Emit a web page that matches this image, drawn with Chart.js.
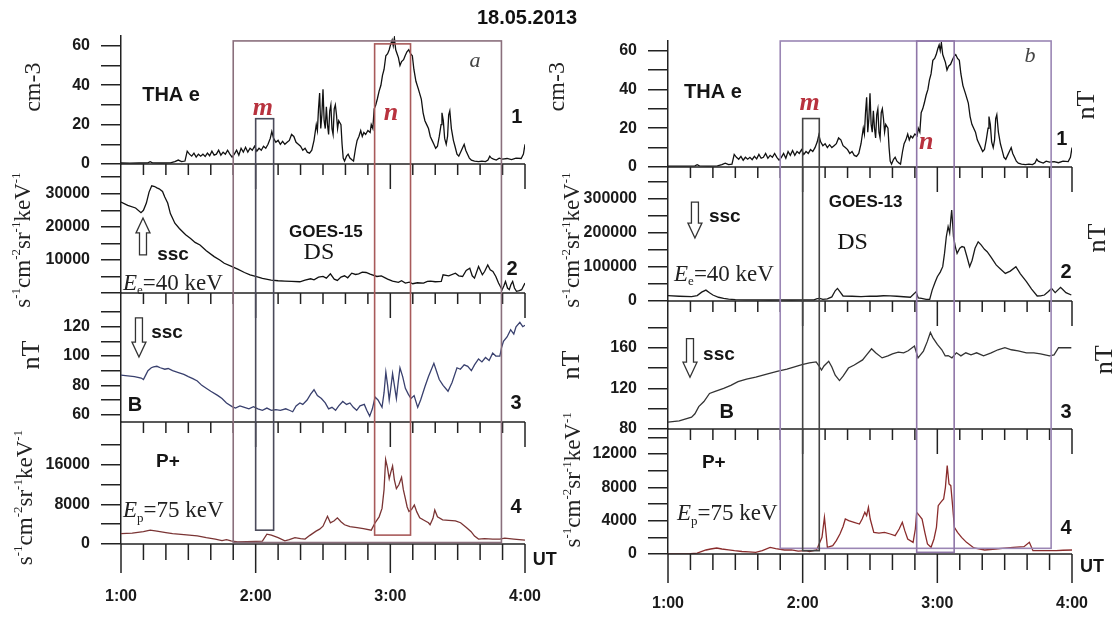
<!DOCTYPE html>
<html>
<head>
<meta charset="utf-8">
<script src="https://cdn.jsdelivr.net/npm/chart.js@4.4.1/dist/chart.umd.min.js"></script>
<style>
  body { margin: 0; background: #fff; }
  #wrap { position: relative; width: 1116px; height: 617px; overflow: hidden; }
  canvas { position: absolute; top: 0; }
  #ca { left: 0; }
  #cb { left: 540px; }
  #date { position: absolute; left: 467px; top: 6px; width: 120px; text-align: center;
          font: bold 20px "Liberation Sans", Arial, sans-serif; color: #111; }
</style>
</head>
<body>
<div id="wrap">
  <canvas id="ca" width="560" height="617"></canvas>
  <canvas id="cb" width="576" height="617"></canvas>
  <div id="date">18.05.2013</div>
</div>
<script>
// time axis: minutes after 01:00 UT
const hourLabels = ['1:00', '2:00', '3:00', '4:00'];

// THEMIS-A electron density, cm-3 (same trace in both columns)
const thaMin = [0,4,8,12,13,14,18,22,24,25.5,
  27,28.5,29.5,30.5,31.5,32.5,33.5,34.5,35.5,36.5,
  37.5,38.5,39.5,40.5,41.5,42.5,43.5,44.5,45.5,46.5,
  47.5,48.5,49.5,50.5,51.5,52.5,53.5,54.5,55.5,56.5,
  57.5,58.5,59.5,60.5,61.5,62.5,63.5,64.5,65.5,66.5,
  67.2,68,69,70,71,72,73,74,75,76,
  77,78,79,80,81,82,83,84,85,86,
  87,87.5,88,88.5,89,89.5,90,90.5,91,91.5,
  92,92.5,93,93.5,94,94.5,95,95.5,96,96.5,
  97,98,98.5,99,99.6,100.5,101.2,102,103,103.6,
  104.5,105.2,106,106.8,107.5,108.2,109,110,111,111.5,
  112.2,112.8,113.5,114.2,115,115.8,116.5,117.2,118,118.8,
  119.5,120.2,120.8,121.3,121.8,122.4,123,123.6,124.3,125,
  125.9,126.6,127.4,128.2,129,129.8,130.5,131.4,132.5,133.8,
  134.6,135.4,136.2,137,137.8,138.6,139.4,140.2,141,141.8,
  142.6,143,143.6,144.2,144.9,145.5,146,146.5,147.2,148.1,
  148.8,149.7,150.5,151.3,152.1,152.9,153.6,154.4,155.2,156.1,
  157.5,159.3,160.8,162.4,163.5,164.3,165,166,167.2,168.5,
  170,172,174,176,178.3,179.3,180];
const thaDens = [0.5,0.4,0.5,0.6,1.2,0.6,0.5,0.6,1.2,2.0,
  1.2,1.5,6.5,5,4,5.5,3.5,5,4,5,
  3.8,5.5,4.2,6.5,4.5,5,7,4.5,6,5,
  7,5,3.5,5,7,4.5,8,6,8.5,6,
  8,7,9,6.5,8,7,9,8,10,13,
  16.5,13,11,12,10,11.5,10,11,12,15,
  14,11,10,9,7,8,6,5.5,7,12,
  20,17,28,36,18,25,38,22,18,29,
  20,15,27,30,18,15,28,30,25,18,
  22,20,10,3,1.5,4,5,3,2,1.5,
  8,12,14,17,14,16,15,17,16,20,
  18,28,30,33,37,40,45,48,55,56,
  58,61,63,60,64,58,56,54,50,52,
  53,55,57,58,56,55,48,42,38,33,
  26,22,20,18,14,12,10,8,9,14,
  20,26,22,13,10,14,25,27,18,12,
  9,5,4,6,8,10,7,5,3,2,
  1.5,1.2,1.5,1.2,2,4,3,2.5,2,3,
  2.5,2.8,2.2,3,2.8,5,10];

// GOES-15 electrons 40 keV
const g15Min = [0,3,6.5,8.9,10,11.3,12.5,13.7,15,16,
  17,18.5,19.5,20.8,22,24,26,28.8,31,33,
  35.2,38,41.5,44,46,49.5,52,55,57.5,60,
  63,66.9,70,73,76,79.7,82,84.5,86,88,
  90,91.5,93.3,95,96.4,98,99.6,101,102.8,104.5,
  105.9,107.5,109.2,111,114,116,118.8,121,123.6,125,
  126.7,128.5,130,132,134.8,136.5,137.9,140,142.7,143.5,
  146,149,150.5,152.2,153.8,155.4,156.5,157.5,159.3,161,
  162,163.4,164.5,165.7,167,168.2,169.8,170.6,171.3,172.2,
  173,173.7,174.5,175.3,176.2,177.5,178.5,180];
const g15Flux = [27500,26500,25700,24300,25000,27200,30500,32400,32200,31800,
  31500,30700,29000,27200,24000,21100,19500,17600,16500,15300,
  14500,12800,11000,10000,9000,8000,7200,6200,5500,5000,
  4400,3900,3700,3600,3500,3400,3900,4300,4000,4800,
  5000,4500,5800,4200,3800,4800,5200,4600,6000,5600,
  5800,6300,6200,5700,5000,5200,4200,3600,3200,3700,
  3000,3300,2800,3100,3000,3500,3600,3400,3500,5500,
  5200,6000,5200,5000,6800,7500,5200,4500,8000,5500,
  6500,8500,7000,6500,5000,3000,1000,2200,3500,1500,
  1000,2500,3500,1500,500,700,1000,3000];

// GOES-15 magnetic field, nT
const g15bMin = [0,3,6,9,10,11,12,13.5,14.5,16,
  17.5,19.5,21,23,25.6,28,30,32,34,36,
  38.3,40,43.2,45,47,49.5,51,53,55,57,
  59,61,63,65,67,69,71,73.4,75,76.5,
  78,79.7,81,82.9,84.5,86,87.5,89.3,91,92.5,
  94,95.6,97,98.8,100.5,102,103.5,105,106.5,108.4,
  109.5,110.8,112,113.2,114.5,116.3,117.2,118,118.8,119.5,
  120.2,121,121.8,122.7,123.5,124.3,125.5,126.7,128,129.2,
  130.6,132.2,133.5,135.4,137,139.4,140.5,141.8,143.5,145.7,
  147.5,149.7,151.2,152.9,154.5,156.1,157.5,159.3,160.8,162.4,
  164,165.6,167,168.8,169.6,170.4,172,173.6,175,176,
  177.7,179,180];
const g15B = [87,86.5,86,85,84,87,90,92,92.6,93,
  92,91,91.5,90,88.7,87.5,86,84.6,83,80,
  77.7,76,73,71,68,65.5,64.5,66,65,64,
  65.5,64,63,64.5,63,63.5,63,64,63,62,
  66,68,67,70,74,77,73,71,68,64,
  65,63,66,69,67,68,65,63,66,67,
  63,59,64,72,70,65,75,89,80,70,
  78,88,80,71,82,92,86,78,74,71,
  73,65,70,79,86,95,90,84,80,76,
  82,92,91,94,93,90,94,98,96,99,
  97,102,100,100,106,110,113,118,115,120,
  123,120,121];

// GOES-15 protons 75 keV
const g15pMin = [0,5,10,13,16,20,23,28,34,38,
  42,45,47,49,52,56,60,63,65,67,
  70,73,75,77.5,80,82,84,86.9,88.5,90,
  92,93.3,95,96.4,98,99.6,102,105.2,108,111.5,
  113.2,115,116.3,117.2,117.9,118.7,119.5,120.2,121,121.8,
  122.7,123.8,125,125.8,126.7,127.5,128.3,129.5,130.7,131.8,
  133.1,135,137,137.7,139,139.8,141,143.3,146,149,
  151.3,154,156,157.5,159.3,162,165.6,168.8,171,175,
  180];
const g15P = [2100,2200,2500,2800,2600,2300,2100,1900,1650,1300,
  1000,700,900,650,450,500,550,600,2000,1800,
  1300,650,900,1300,1100,1000,1700,2600,3000,3600,
  5600,4300,4700,5300,4500,3900,3500,3300,3100,2800,
  4300,5500,7200,11000,17100,15500,13200,14500,15800,13000,
  11200,12000,13500,11000,9200,7500,6600,7000,7900,6500,
  5300,4800,4300,3900,5200,6900,5500,4900,4800,4700,
  4300,3300,2500,1600,1000,1100,1000,1000,1200,1000,
  800];

// GOES-13 electrons 40 keV
const g13Min = [0,5,10.5,13,15,16.9,18.5,20,22.5,24.8,
  27,30,35,40,45,50,55,60,65,66.5,
  67.6,69,71,73,74.5,75.5,76.5,78,82,86,
  90,93,96,99,102,105,108,110.5,111.5,113,
  115,116.6,117.7,119,120,121.3,122.4,123.2,124,124.8,
  125.5,126,126.4,126.8,127.2,128,128.8,130,131,132,
  133.2,134.4,135.5,136.8,138.2,139.5,141,142.2,144,146.2,
  148,150.3,152.5,155,157,159.7,162,164.5,166,167.7,
  169.5,170.9,172.5,174.9,176,177.3,179.7];
const g13Flux = [15700,14000,12700,16000,26000,32000,24000,17600,11000,7800,
  5500,4000,3500,3200,3000,3200,3000,3200,3500,7000,
  7800,5000,6000,12000,30000,37000,28000,14700,14000,13000,
  14500,14000,15500,15000,14000,12500,11000,27000,9000,7800,
  5000,4900,32000,55000,71500,85000,101000,140000,189000,218500,
  200000,240000,267500,230000,189000,160000,140000,155000,160000,158000,
  130000,101000,120000,155000,174000,165000,152000,145000,128000,106000,
  95000,81000,88000,101000,80000,57000,35000,14700,15000,17600,
  28000,37000,24500,40000,33000,24500,17600];

// GOES-13 magnetic field, nT
const g13bMin = [0,5,10.5,12,13.7,16,18.5,21,24.8,28,
  31.2,35,39.1,44,48.6,53,56,59.7,63,66,
  67,68.4,69.5,71.6,73,74.5,76.4,78,80.4,83,
  86.7,88.5,90.7,92.5,95.4,98,100,102.6,105,107,
  109.8,111.4,113.8,115.5,116.9,118,120,122,123.5,124.8,
  126.5,128.5,130.5,132.7,135,137.5,140.6,144,147,150.1,
  153,156,159.7,163,166,168,170,172,174,177,
  179.7];
const g13B = [86.7,88,91.7,95,102,107,115,117,120,123,
  126.7,129,131,134,136.7,139,141,143.3,145,146,
  143,138,142,146.7,141,133,127.7,132,140,143,
  148,153,159,155,150,152,154,155.7,155,157,
  161.7,150,156.7,166,175,170,163.3,158,152,152.3,
  150,155,152,155,153,155,152,155,158,160,
  158,157,155,155,154,153,152,153,160,160,
  160];

// GOES-13 protons 75 keV
const g13pMin = [0,5,10,13,16.9,19,21.7,24,27,29.6,
  33,36,39.1,42,45.5,48,51.9,55,58,61.4,
  63,66.2,68.6,69.7,70.4,71,73.4,75,76.6,78,
  79,80.5,82.9,85.3,86.5,87.7,88.5,89.3,90.1,91.7,
  94,96.5,99,101.2,103,104.4,105.5,106.8,109.2,110.2,
  110.8,112,113.2,114.5,115.6,117.2,118.5,119.6,120.4,121.5,
  122.8,123.6,124.4,125.2,126,126.8,127.6,129,130.8,133,
  136.3,141.1,146,150,153.8,158.6,161,162.6,166,172.9,
  176,180];
const g13P = [0,0,30,100,480,600,720,600,500,400,
  300,250,200,400,800,650,480,500,350,400,
  300,480,2000,4400,2500,800,1000,1600,2400,3300,
  4200,4000,3800,3600,4200,5000,4600,5600,4200,2600,
  2500,2600,2400,2200,3000,3800,2800,1800,1400,3000,
  5000,4600,4200,2500,1200,800,1800,3200,5800,6200,
  6600,8000,10600,8400,8200,5800,3200,2600,2000,1400,
  720,480,600,700,800,880,1400,400,400,400,
  450,480];

const SANS = '"Liberation Sans", Arial, sans-serif';
const SERIF = '"Liberation Serif", "Times New Roman", serif';
const RED = '#b8323e';
Chart.defaults.font.family = SANS;
Chart.defaults.color = '#1a1a1a';

const pts = (t, v) => t.map((x, i) => ({ x, y: v[i] }));

function line(ctx, x0, y0, x1, y1) {
  ctx.beginPath(); ctx.moveTo(x0, y0); ctx.lineTo(x1, y1); ctx.stroke();
}

// text built from pieces: 0 normal, 1 superscript, 2 subscript, 3 italic
function rich(ctx, parts, x, y, size, rot) {
  const small = Math.round(size * 0.56);
  const fnt = k => (k === 1 || k === 2) ? small + 'px ' + SERIF
    : (k === 3 ? 'italic ' : '') + size + 'px ' + SERIF;
  ctx.save();
  ctx.translate(x, y);
  if (rot) ctx.rotate(-Math.PI / 2);
  let w = 0;
  parts.forEach(([s, k]) => { ctx.font = fnt(k); w += ctx.measureText(s).width; });
  let cx = rot ? -w / 2 : 0;
  ctx.fillStyle = '#222';
  ctx.textAlign = 'left';
  ctx.textBaseline = 'alphabetic';
  parts.forEach(([s, k]) => {
    ctx.font = fnt(k);
    const dy = k === 1 ? -size * 0.4 : (k === 2 ? size * 0.2 : 0);
    ctx.fillText(s, cx, size * 0.33 + dy);
    cx += ctx.measureText(s).width;
  });
  ctx.restore();
}

// hollow arrow, tip at yTip
function arrow(ctx, x, yTip, yTail) {
  const d = Math.sign(yTail - yTip), hl = 15 * d;
  ctx.beginPath();
  ctx.moveTo(x, yTip);
  ctx.lineTo(x + 7, yTip + hl); ctx.lineTo(x + 3.5, yTip + hl);
  ctx.lineTo(x + 3.5, yTail); ctx.lineTo(x - 3.5, yTail);
  ctx.lineTo(x - 3.5, yTip + hl); ctx.lineTo(x - 7, yTip + hl);
  ctx.closePath();
  ctx.fillStyle = '#fff'; ctx.fill();
  ctx.strokeStyle = '#333'; ctx.lineWidth = 1.3; ctx.stroke();
}

function deco(col) {
  return {
    id: 'deco',
    afterDatasetsDraw(chart) {
      const { ctx, chartArea: ca, scales: s } = chart;
      const X = t => s.x.getPixelForValue(t);
      const Y = (ax, v) => s[ax].getPixelForValue(v);
      const ids = ['y1', 'y2', 'y3', 'y4'];
      ctx.save();
      ctx.strokeStyle = '#222'; ctx.lineWidth = 1.5;
      ids.forEach((id, i) => {
        const yb = s[id].bottom;
        line(ctx, ca.left, yb, ca.right, yb);
        for (let t = 10; t <= 180; t += 10) {
          const hr = t % 60 === 0;
          const len = i === 3 ? (hr ? 29 : 16) : (hr ? 25 : 11);
          line(ctx, X(t), yb, X(t), yb + len);
        }
      });
      line(ctx, ca.left, ca.bottom, ca.left, ca.bottom + 29);

      // tick labels from the scales' own ticks
      ctx.fillStyle = '#1a1a1a';
      ctx.font = 'bold 16px ' + SANS;
      ctx.textAlign = 'right'; ctx.textBaseline = 'middle';
      ids.forEach((id, i) => {
        const p = col.panels[i];
        s[id].ticks.forEach(tk => {
          const v = tk.value;
          if (v % p.lab === 0 && v >= p.lo && v <= p.hi) ctx.fillText(String(v), ca.left - 31, Y(id, v));
        });
      });
      ctx.textAlign = 'center';
      s.x.ticks.forEach(tk => {
        if (tk.value % 60 === 0) ctx.fillText(hourLabels[tk.value / 60], X(tk.value), ca.bottom + col.xlab);
      });

      col.boxes.forEach(b => {
        ctx.strokeStyle = b.color; ctx.lineWidth = 1.6;
        const x0 = X(b.t0), x1 = X(b.t1), y0 = Y('y1', b.top), y1 = Y('y4', b.bot);
        ctx.strokeRect(x0, y0, x1 - x0, y1 - y0);
      });

      col.ann.forEach(a => {
        const x = X(a.t), y = Y(a.ax, a.v);
        if (a.tail !== undefined) { arrow(ctx, x, y, Y(a.ax, a.tail)); return; }
        if (a.parts) { rich(ctx, a.parts, x, y, a.size, a.rot); return; }
        ctx.font = a.f; ctx.fillStyle = a.c || '#151515';
        ctx.textAlign = 'center'; ctx.textBaseline = 'middle';
        ctx.fillText(a.s, x, y);
      });
      ctx.restore();
    }
  };
}

function yAxis(p, w, order, weight) {
  return {
    type: 'linear', position: 'left', stack: 'col', stackWeight: weight, weight: order,
    min: p.min, max: p.max,
    ticks: { display: false, stepSize: p.step, autoSkip: false },
    // evenly spaced tick marks at every step inside the panel
    afterBuildTicks: ax => {
      const list = [];
      for (let v = Math.ceil(p.min / p.step) * p.step; v <= p.top; v += p.step) list.push({ value: v });
      ax.ticks = list;
    },
    afterFit: sc => { sc.width = w; },
    grid: { drawOnChartArea: false, tickLength: 20, color: '#222', lineWidth: 1.5 },
    border: { color: '#222', width: 1.5 }
  };
}

function makeChart(id, col) {
  const scales = {
    x: {
      type: 'linear', min: 0, max: 180,
      afterFit: sc => { sc.height = col.xh; },
      ticks: { display: false, stepSize: 60, autoSkip: false },
      grid: { display: false }, border: { display: false }
    }
  };
  col.panels.forEach((p, i) => { scales['y' + (i + 1)] = yAxis(p, col.yw, 4 - i, col.weights[i]); });
  new Chart(document.getElementById(id), {
    type: 'line',
    data: {
      datasets: col.series.map((d, i) => ({
        data: pts(d.t, d.v), yAxisID: 'y' + (i + 1), borderColor: d.color,
        borderWidth: 1.3, pointRadius: 0, tension: 0
      }))
    },
    options: {
      responsive: false, animation: false,
      layout: { padding: col.pad, autoPadding: false },
      plugins: { legend: { display: false }, tooltip: { enabled: false } },
      scales
    },
    plugins: [deco(col)]
  });
}

const fluxTitle = [['s', 0], ['-1', 1], ['cm', 0], ['-2', 1], ['sr', 0], ['-1', 1], ['keV', 0], ['-1', 1]];
const bigMark = 'bold italic 26px ' + SERIF;

makeChart('ca', {
  pad: { left: 51, right: 35, top: 36, bottom: 13 }, yw: 70, xh: 60, xlab: 53,
  weights: [128, 129, 129, 122],
  panels: [
    { min: 0, max: 65, step: 10, lab: 20, lo: 0, hi: 60, top: 60 },
    { min: 0, max: 39000, step: 5000, lab: 10000, lo: 10000, hi: 30000, top: 35000 },
    { min: 55, max: 143, step: 10, lab: 20, lo: 60, hi: 120, top: 130 },
    { min: 0, max: 24700, step: 4000, lab: 8000, lo: 0, hi: 16000, top: 20000 }
  ],
  series: [
    { t: thaMin, v: thaDens, color: '#111' },
    { t: g15Min, v: g15Flux, color: '#111' },
    { t: g15bMin, v: g15B, color: '#39406e' },
    { t: g15pMin, v: g15P, color: '#7a3434' }
  ],
  boxes: [
    { t0: 50, t1: 169.5, top: 62.5, bot: 300, color: '#8a6f7c' },
    { t0: 60, t1: 68, top: 23, bot: 2800, color: '#4a4a5a' },
    { t0: 113, t1: 129, top: 61, bot: 1800, color: '#a85a5a' }
  ],
  ann: [
    { s: 'THA e', t: 22.3, ax: 'y1', v: 35, f: 'bold 20px ' + SANS },
    { s: 'm', t: 63.2, ax: 'y1', v: 28.5, f: bigMark, c: RED },
    { s: 'n', t: 120.3, ax: 'y1', v: 26, f: bigMark, c: RED },
    { s: 'a', t: 157.7, ax: 'y1', v: 52, f: 'italic 22px ' + SERIF, c: '#444' },
    { s: '1', t: 176.4, ax: 'y1', v: 23.4, f: 'bold 20px ' + SANS },
    { s: 'GOES-15', t: 91.3, ax: 'y2', v: 18200, f: 'bold 17px ' + SANS },
    { s: 'DS', t: 88.2, ax: 'y2', v: 12100, f: '24px ' + SERIF },
    { s: 'ssc', t: 23.2, ax: 'y2', v: 11500, f: 'bold 19px ' + SANS },
    { t: 9.8, ax: 'y2', v: 22700, tail: 11500 },
    { parts: [['E', 3], ['e', 2], ['=40 keV', 0]], t: 0.9, ax: 'y2', v: 3300, size: 23 },
    { s: '2', t: 174.2, ax: 'y2', v: 7000, f: 'bold 20px ' + SANS },
    { s: 'ssc', t: 20.5, ax: 'y3', v: 115.9, f: 'bold 19px ' + SANS },
    { t: 8, ax: 'y3', v: 99.3, tail: 126 },
    { s: 'B', t: 6.2, ax: 'y3', v: 66.2, f: 'bold 20px ' + SANS },
    { s: '3', t: 176, ax: 'y3', v: 67.6, f: 'bold 20px ' + SANS },
    { s: 'P+', t: 20.9, ax: 'y4', v: 16600, f: 'bold 19px ' + SANS },
    { parts: [['E', 3], ['p', 2], ['=75 keV', 0]], t: 0.9, ax: 'y4', v: 7000, size: 23 },
    { s: '4', t: 176, ax: 'y4', v: 7400, f: 'bold 20px ' + SANS },
    { s: 'UT', t: 188.8, ax: 'y4', v: -3280, f: 'bold 18px ' + SANS },
    { parts: [['cm-3', 0]], t: -39.6, ax: 'y1', v: 39, size: 24, rot: true },
    { parts: fluxTitle, t: -44.1, ax: 'y2', v: 16000, size: 23, rot: true },
    { parts: [['nT', 0]], t: -40.5, ax: 'y3', v: 100.7, size: 26, rot: true },
    { parts: fluxTitle, t: -43.2, ax: 'y4', v: 9400, size: 23, rot: true }
  ]
});

makeChart('cb', {
  pad: { left: 48, right: 44, top: 41, bottom: 8 }, yw: 80, xh: 55, xlab: 50,
  weights: [126, 134, 128, 125],
  panels: [
    { min: 0, max: 65, step: 10, lab: 20, lo: 0, hi: 60, top: 60 },
    { min: 0, max: 394000, step: 50000, lab: 100000, lo: 0, hi: 300000, top: 350000 },
    { min: 80, max: 206, step: 20, lab: 40, lo: 80, hi: 160, top: 180 },
    { min: 0, max: 15000, step: 2000, lab: 4000, lo: 0, hi: 12000, top: 14000 }
  ],
  series: [
    { t: thaMin, v: thaDens, color: '#111' },
    { t: g13Min, v: g13Flux, color: '#1a1a1a' },
    { t: g13bMin, v: g13B, color: '#333' },
    { t: g13pMin, v: g13P, color: '#8a2c2c' }
  ],
  boxes: [
    { t0: 50, t1: 170.7, top: 65, bot: 680, color: '#9a86b4' },
    { t0: 60, t1: 67.4, top: 25, bot: 400, color: '#444' },
    { t0: 110.8, t1: 127.5, top: 65, bot: 200, color: '#8f76a8' }
  ],
  ann: [
    { s: 'THA e', t: 20, ax: 'y1', v: 38.3, f: 'bold 20px ' + SANS },
    { s: 'm', t: 63.1, ax: 'y1', v: 33, f: bigMark, c: RED },
    { s: 'n', t: 115.1, ax: 'y1', v: 12.9, f: bigMark, c: RED },
    { s: 'b', t: 161.3, ax: 'y1', v: 57, f: 'italic 22px ' + SERIF, c: '#444' },
    { s: '1', t: 175.5, ax: 'y1', v: 14, f: 'bold 20px ' + SANS },
    { parts: [['nT', 0]], t: 185.8, ax: 'y1', v: 32, size: 26, rot: true },
    { s: 'GOES-13', t: 88, ax: 'y2', v: 291000, f: 'bold 17px ' + SANS },
    { s: 'DS', t: 82.2, ax: 'y2', v: 170600, f: '24px ' + SERIF },
    { s: 'ssc', t: 25.3, ax: 'y2', v: 247000, f: 'bold 19px ' + SANS },
    { t: 12, ax: 'y2', v: 185000, tail: 291000 },
    { parts: [['E', 3], ['e', 2], ['=40 keV', 0]], t: 2.7, ax: 'y2', v: 82000, size: 23 },
    { s: '2', t: 177.3, ax: 'y2', v: 85000, f: 'bold 20px ' + SANS },
    { parts: [['nT', 0]], t: 191.1, ax: 'y2', v: 185000, size: 26, rot: true },
    { s: 'ssc', t: 22.7, ax: 'y3', v: 153, f: 'bold 19px ' + SANS },
    { t: 9.8, ax: 'y3', v: 131, tail: 169 },
    { s: 'B', t: 26.2, ax: 'y3', v: 96, f: 'bold 20px ' + SANS },
    { s: '3', t: 177.3, ax: 'y3', v: 96, f: 'bold 20px ' + SANS },
    { parts: [['nT', 0]], t: 193.8, ax: 'y3', v: 148, size: 26, rot: true },
    { s: 'P+', t: 20.4, ax: 'y4', v: 11000, f: 'bold 19px ' + SANS },
    { parts: [['E', 3], ['p', 2], ['=75 keV', 0]], t: 4, ax: 'y4', v: 5000, size: 23 },
    { s: '4', t: 177.3, ax: 'y4', v: 3100, f: 'bold 20px ' + SANS },
    { s: 'UT', t: 188.9, ax: 'y4', v: -1560, f: 'bold 18px ' + SANS },
    { parts: [['cm-3', 0]], t: -49.8, ax: 'y1', v: 41.4, size: 24, rot: true },
    { parts: fluxTitle, t: -43.1, ax: 'y2', v: 179000, size: 23, rot: true },
    { parts: [['nT', 0]], t: -43.6, ax: 'y3', v: 143, size: 26, rot: true },
    { parts: fluxTitle, t: -42.7, ax: 'y4', v: 8900, size: 23, rot: true }
  ]
});
</script>
</body>
</html>
